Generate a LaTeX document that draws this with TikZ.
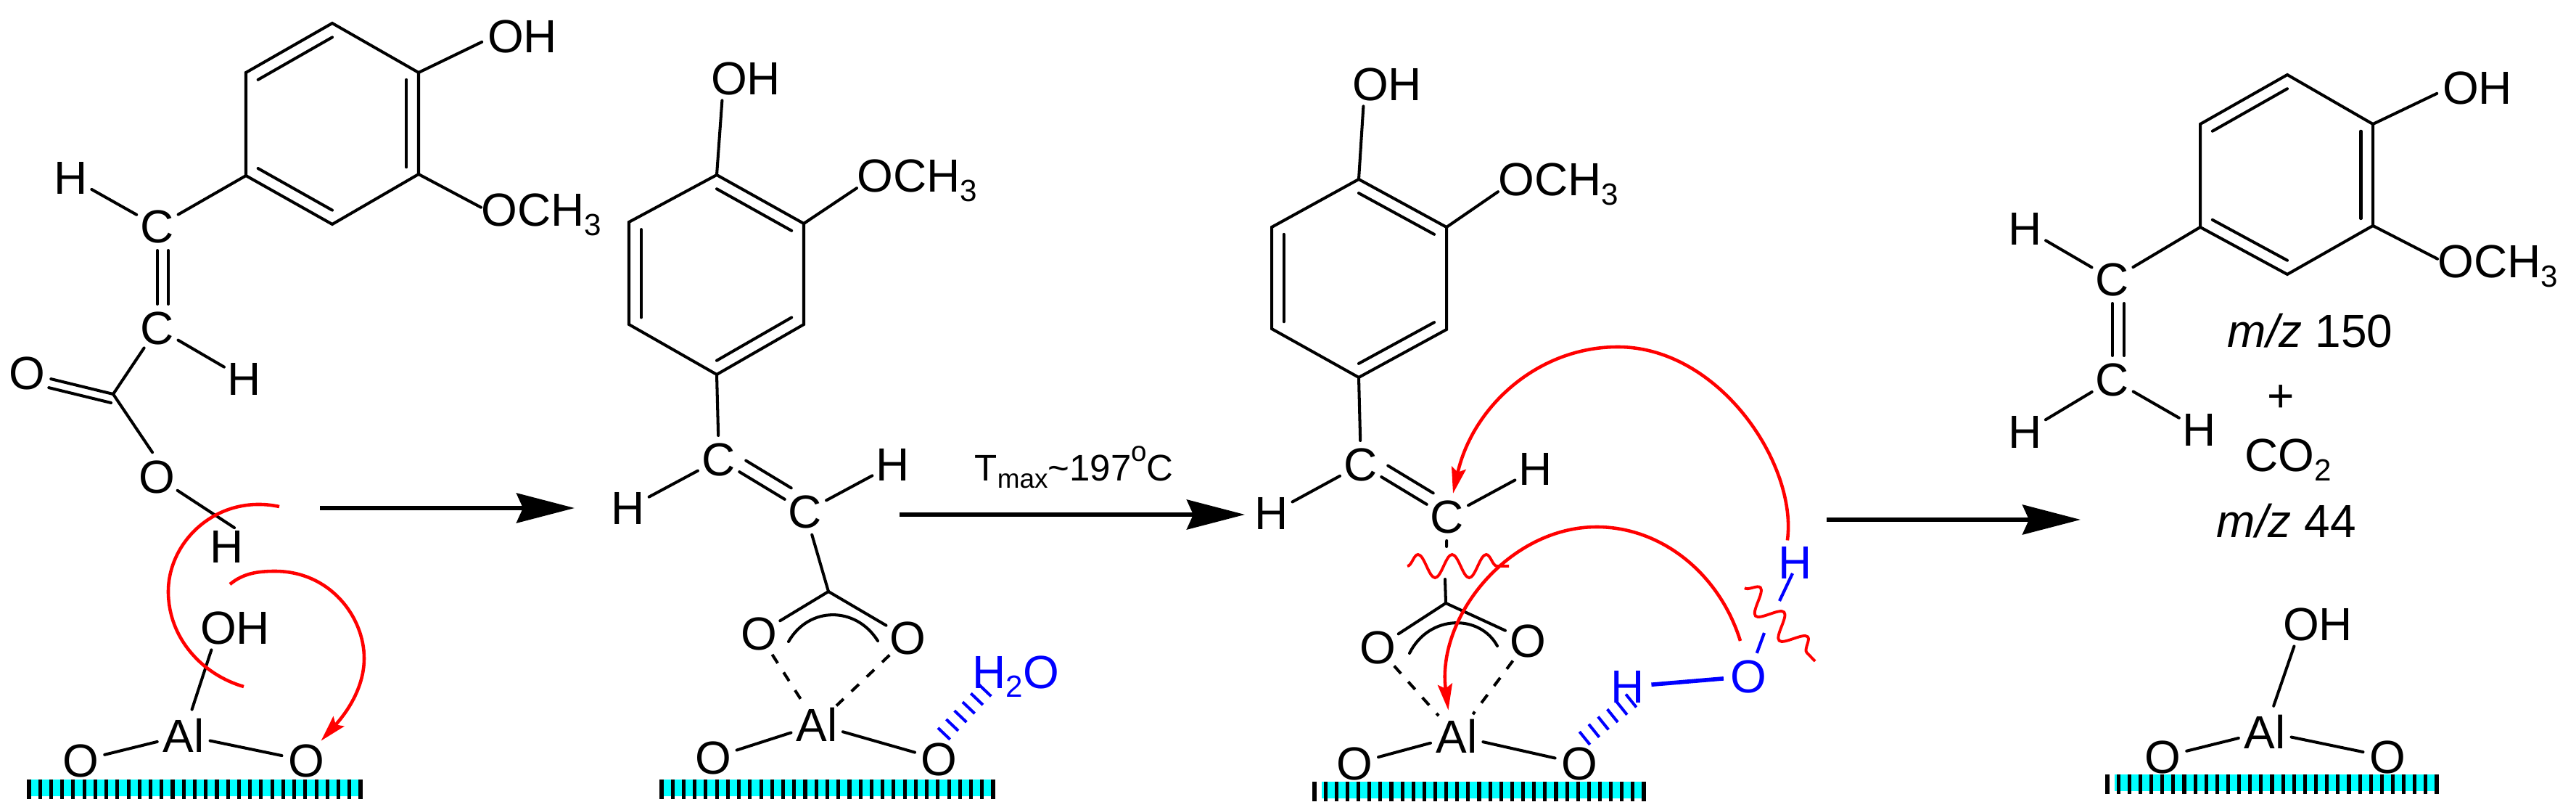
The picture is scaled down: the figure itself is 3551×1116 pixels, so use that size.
\documentclass[tikz,border=0pt]{standalone}
\usepackage{fontspec}
\setmainfont{Liberation Sans}
\usetikzlibrary{arrows.meta,calc,decorations.pathmorphing}
\definecolor{surfcyan}{RGB}{0,255,255}
\definecolor{pureblue}{RGB}{0,0,255}
\definecolor{purered}{RGB}{255,0,0}
\newcommand{\lowr}[2][12]{\raisebox{-.19em}{\fontsize{#1}{#1}\selectfont #2}}

\begin{document}
\begin{tikzpicture}[x=.01cm,y=-.01cm,every node/.style={font=\fontsize{18.2}{22}\selectfont}]
	\tikzstyle{atom}=[circle,inner sep=0pt]
	\tikzstyle{grp}=[inner sep=2pt]
	\tikzstyle{lbl}=[anchor=base west,inner sep=0pt]
	\tikzstyle{bond}=[line width=1.15pt,line cap=round]
	\tikzstyle{dbond}=[line width=1.15pt,dash pattern=on 4pt off 4.3pt]
	\tikzstyle{hbond}=[pureblue,line width=.23cm,dash pattern=on 1.14pt off 3.53pt]
	\tikzstyle{bbond}=[pureblue,line width=1.2pt]
	\tikzstyle{rxn}=[line width=1.5pt,-{Stealth[length=.8cm,width=.41cm,inset=.09cm]}]
	\tikzstyle{rcurve}=[purered,line width=1.3pt]
	\tikzstyle{rarrow}=[purered,line width=1.3pt,-{Stealth[length=.36cm,width=.2cm,inset=.06cm]}]
	\tikzstyle{cut}=[purered,line width=1.1pt,decorate,decoration={snake,segment length=.47cm,amplitude=.16cm}]
	\useasboundingbox (0,0) rectangle (3551,1116);

	% alumina surfaces
	\foreach \xa/\xc/\ya/\xb in {40/40/1074/497,912/912/1074/1369,1812/1822/1077/2266,2905/2915/1067/3359}{
	\fill[surfcyan] (\xc,\ya) rectangle (\xb,\ya+23);
	\foreach \i in {0,...,30}{
	\draw[line width=1.45pt] ({\xa+\i*(\xb-\xa)/30},\ya) -- ++(0,27);
	}
	}

	% rings
	\path (458,32) coordinate (r1-1) (577,100) coordinate (r1-2) (577,240) coordinate (r1-3) (458,309) coordinate (r1-4) (339,242) coordinate (r1-5) (339,100) coordinate (r1-6);
	\path (988,241) coordinate (r2-1) (1108,308) coordinate (r2-2) (1108,447) coordinate (r2-3) (988,516) coordinate (r2-4) (867,447) coordinate (r2-5) (867,306) coordinate (r2-6);
	\path (1873,247) coordinate (r3-1) (1994,313) coordinate (r3-2) (1994,454) coordinate (r3-3) (1873,520) coordinate (r3-4) (1753,453) coordinate (r3-5) (1753,313) coordinate (r3-6);
	\path (3153,103) coordinate (r4-1) (3271,171) coordinate (r4-2) (3271,311) coordinate (r4-3) (3153,378) coordinate (r4-4) (3033,313) coordinate (r4-5) (3033,171) coordinate (r4-6);
	\foreach \r in {1,2,3,4}{
	\coordinate (rc-\r) at ($(r\r-1)!.5!(r\r-4)$);
	\draw[bond,line join=miter] (r\r-1) -- (r\r-2) -- (r\r-3) -- (r\r-4) -- (r\r-5) -- (r\r-6) -- cycle;
	}
	\foreach \r/\a/\b in {1/6/1,1/2/3,1/4/5,2/1/2,2/3/4,2/5/6,3/1/2,3/3/4,3/5/6,4/6/1,4/2/3,4/4/5}{
	\draw[bond] ($(r\r-\a)!.14!(rc-\r)$) -- ($(r\r-\b)!.14!(rc-\r)$);
	}

	% first molecule
	\node[grp](oh-1) at (720,50){OH};
	\node[lbl](ome-1) at (663,312){OCH\lowr{3}};
	\node[atom](ha-1) at (98,245){H};
	\node[atom](ca-1) at (217,312){C};
	\node[atom](cb-1) at (217,452){C};
	\node[atom](hb-1) at (337,522){H};
	\coordinate (v-1) at (156,543);
	\node[atom](od-1) at (37,514){O};
	\node[atom](oe-1) at (216,657){O};
	\node[atom](he-1) at (313,753){H};
	\node[grp](ohs-1) at (324,865){OH};
	\node[atom](al-1) at (253,1013){Al};
	\node[atom](ol-1) at (111,1048){O};
	\node[atom](or-1) at (422,1048){O};
	\draw[bond] (cb-1) -- (v-1);
	\draw[bond] (od-1) -- (v-1);
	\draw[bond,transform canvas={shift={(-.03cm,-.12cm)}}] (od-1) -- (v-1);
	\draw[bond] (v-1) -- (oe-1.100);
	\draw[bond,shorten >=-.12cm] (oe-1) -- (he-1.north);

	% second molecule
	\node[grp](oh-2) at (1028,108){OH};
	\node[lbl](ome-2) at (1181,265){OCH\lowr{3}};
	\node[atom](ha-2) at (866,700){H};
	\node[atom](ca-2) at (991,633){C};
	\node[atom](cb-2) at (1110,705){C};
	\node[atom](hb-2) at (1231,640){H};
	\coordinate (v-2) at (1142,815);
	\node[atom](oa-2) at (1046,873){O};
	\node[atom](ob-2) at (1251,879){O};
	\node[atom](al-2) at (1126,998){Al};
	\node[atom](ol-2) at (983,1044){O};
	\node[atom](or-2) at (1294,1046){O};
	\node[lbl,pureblue](wat-2) at (1340,948){H\lowr{2}O};
	\coordinate (hw-2) at (1365,944);
	\draw[bond] (cb-2) -- (v-2);
	\draw[hbond] (or-2.80) -- (hw-2);
	\draw[bond] (1087,884) .. controls (1115,835) and (1180,835) .. (1210,883);

	% third molecule
	\node[grp](oh-3) at (1912,116){OH};
	\node[lbl](ome-3) at (2065,270){OCH\lowr{3}};
	\node[atom](ha-3) at (1753,707){H};
	\node[atom](ca-3) at (1876,640){C};
	\node[atom](cb-3) at (1995,712){C};
	\node[atom](hb-3) at (2117,646){H};
	\coordinate (v-3) at (1993,831);
	\node[atom](oa-3) at (1899,892){O};
	\node[atom](ob-3) at (2106,883){O};
	\node[atom](al-3) at (2008,1014){Al};
	\node[atom](ol-3) at (1867,1052){O};
	\node[atom](or-3) at (2177,1052){O};
	\node[atom,pureblue](hw-3) at (2244,946){H};
	\node[atom,pureblue](ow-3) at (2410,932){O};
	\node[atom,pureblue](ht-3) at (2475,775){H};
	\coordinate (wd-3) at (2254,961);
	\path (1994,753) coordinate (bk-1) (1992,798) coordinate (bk-2);
	\path (2432,872) coordinate (bk-3) (2453,828) coordinate (bk-4) (2471,790) coordinate (bk-5);
	\draw[bond] (cb-3) -- (bk-1);
	\draw[bond] (bk-2) -- (v-3);
	\draw[bond] (1943,900) .. controls (1970,846) and (2040,846) .. (2064,890);
	\draw[hbond] (or-3.80) -- (wd-3);
	\draw[bbond,line width=1.6pt] (hw-3) -- (ow-3);
	\draw[bbond] (ow-3) -- (bk-3);
	\draw[bbond] (bk-4) -- (bk-5);

	% last products
	\node[grp](oh-4) at (3415,121){OH};
	\node[lbl](ome-4) at (3360,383){OCH\lowr{3}};
	\node[atom](ha-4) at (2792,315){H};
	\node[atom](ca-4) at (2912,385){C};
	\node[atom](cb-4) at (2912,523){C};
	\node[atom](hb-4) at (3032,592){H};
	\node[atom](hc-4) at (2792,595){H};
	\node[grp](ohs-4) at (3195,860){OH};
	\node[atom](al-4) at (3122,1008){Al};
	\node[atom](ol-4) at (2981,1043){O};
	\node[atom](or-4) at (3291,1043){O};
	\node[lbl](mz-1) at (3070,479){\textit{m/z} 150};
	\node[lbl](pl-1) at (3125,568){+};
	\node[lbl](co-1) at (3094,650){CO\lowr{2}};
	\node[lbl](mz-2) at (3055,741){\textit{m/z} 44};
	\draw[bond] (cb-4) -- (hc-4);

	% bonds shared by the molecules
	\foreach \p/\a/\b/\c/\ah/\ao in {1/2/3/5/188/173,2/1/2/4/223/187,3/1/2/4/223/187,4/2/3/5/188/173}{
	\draw[bond] (r\p-\a) -- (oh-\p.\ah);
	\draw[bond] (r\p-\b) -- (ome-\p.\ao);
	\draw[bond] (r\p-\c) -- (ca-\p);
	\draw[bond] (ha-\p) -- (ca-\p);
	\draw[bond] (cb-\p) -- (hb-\p);
	\draw[bond] (ol-\p) -- (al-\p);
	\draw[bond] (al-\p) -- (or-\p);
	}
	\foreach \p/\sx/\sy in {1/.15/0,2/.09/.155,3/.09/.155,4/.16/0}{
	\draw[bond] (ca-\p) -- (cb-\p);
	\draw[bond,transform canvas={shift={(\sx cm,\sy cm)}}] (ca-\p) -- (cb-\p);
	}
	\foreach \p in {1,4}{
	\draw[bond] (al-\p) -- (ohs-\p.223);
	}
	\foreach \p in {2,3}{
	\draw[bond] (v-\p) -- (oa-\p);
	\draw[bond] (v-\p) -- (ob-\p);
	\draw[dbond] (oa-\p) -- (al-\p);
	\draw[dbond] (ob-\p) -- (al-\p);
	}

	% reaction arrows
	\path (441,700) coordinate (as-1) (792,700) coordinate (ae-1);
	\path (1240,709) coordinate (as-2) (1716,709) coordinate (ae-2);
	\path (2518,716) coordinate (as-3) (2868,716) coordinate (ae-3);
	\foreach \x in {1,2,3}{
	\draw[rxn] (as-\x) -- (ae-\x);
	}
	\node[lbl,font=\fontsize{14.5}{18}\selectfont](tmax) at (1343,663){T\lowr[10.5]{max}\textasciitilde 197\raisebox{.53em}{\fontsize{11}{11}\selectfont o}C};

	% electron flow
	\draw[rcurve] (385,698) .. controls (300,680) and (232,745) .. (232,815) .. controls (232,880) and (280,930) .. (336,946);
	\draw[rarrow] (317,805) .. controls (335,790) and (355,787) .. (379,787) .. controls (455,787) and (502,850) .. (502,907) .. controls (502,950) and (475,985) .. (or-1.53);
	\draw[rarrow] (ht-3.110) .. controls (2478,640) and (2370,478) .. (2230,478) .. controls (2120,478) and (2030,560) .. (cb-3.76);
	\draw[rarrow] (2399,883) .. controls (2370,790) and (2290,726) .. (2201,726) .. controls (2080,726) and (1980,850) .. (al-3.108);
	\draw[cut] (1940,780) -- (2080,780);
	\draw[cut] (2405,810) -- (2502,911);
\end{tikzpicture}
\end{document}
